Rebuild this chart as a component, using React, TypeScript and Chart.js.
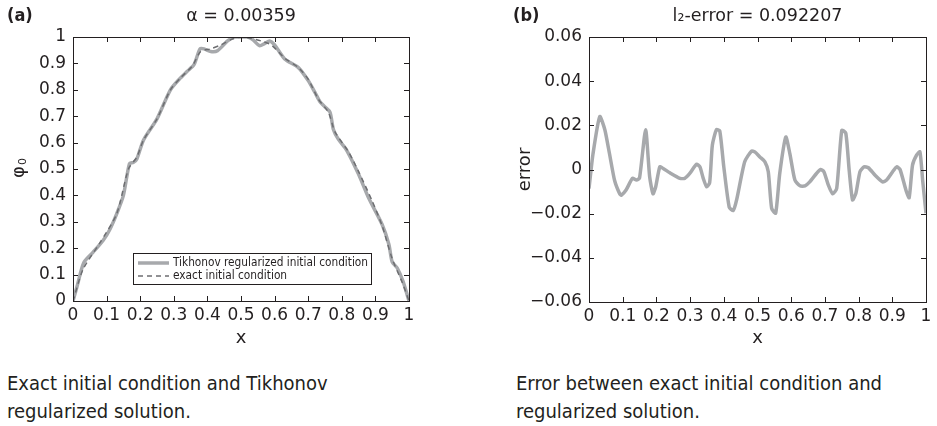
import React, { useEffect, useRef } from "react";
import { Chart, registerables } from "chart.js";
Chart.register(...registerables);

// ---------- data ----------
const tikhonovX = [0, 0.012, 0.032, 0.06, 0.09, 0.11, 0.13, 0.15, 0.168, 0.18, 0.19, 0.21, 0.25, 0.29, 0.32, 0.34, 0.36, 0.378, 0.39, 0.41, 0.43, 0.46, 0.48, 0.5, 0.52, 0.535, 0.555, 0.57, 0.585, 0.6, 0.63, 0.67, 0.7, 0.72, 0.735, 0.75, 0.765, 0.775, 0.79, 0.815, 0.85, 0.88, 0.92, 0.94, 0.95, 0.965, 0.982, 1];
const tikhonovY = [0, 0.055, 0.145, 0.185, 0.23, 0.272, 0.33, 0.4, 0.52, 0.525, 0.538, 0.61, 0.69, 0.8, 0.845, 0.87, 0.895, 0.955, 0.955, 0.945, 0.948, 0.985, 1.0, 1.0, 1.0, 0.99, 0.967, 0.975, 0.985, 0.97, 0.917, 0.885, 0.835, 0.79, 0.755, 0.735, 0.715, 0.65, 0.612, 0.57, 0.48, 0.39, 0.29, 0.215, 0.148, 0.125, 0.075, 0];

const exactX = [0, 0.03, 0.08, 0.13, 0.165, 0.19, 0.21, 0.25, 0.29, 0.32, 0.355, 0.38, 0.41, 0.44, 0.47, 0.5, 0.53, 0.56, 0.59, 0.63, 0.67, 0.7, 0.73, 0.76, 0.78, 0.82, 0.85, 0.89, 0.92, 0.95, 0.98, 1];
const exactY = [0, 0.12, 0.22, 0.33, 0.5, 0.545, 0.61, 0.69, 0.8, 0.845, 0.89, 0.945, 0.955, 0.97, 0.99, 1.0, 0.995, 0.985, 0.97, 0.92, 0.885, 0.84, 0.765, 0.715, 0.64, 0.565, 0.49, 0.38, 0.285, 0.16, 0.07, 0];

const errorX = [0, 0.012, 0.032, 0.047, 0.061, 0.076, 0.091, 0.096, 0.11, 0.129, 0.141, 0.15, 0.168, 0.18, 0.19, 0.198, 0.21, 0.22, 0.24, 0.27, 0.284, 0.299, 0.319, 0.329, 0.339, 0.349, 0.358, 0.366, 0.378, 0.388, 0.4, 0.416, 0.428, 0.438, 0.462, 0.482, 0.492, 0.507, 0.522, 0.532, 0.542, 0.554, 0.566, 0.584, 0.596, 0.611, 0.626, 0.641, 0.655, 0.675, 0.687, 0.697, 0.71, 0.723, 0.735, 0.75, 0.762, 0.772, 0.782, 0.792, 0.804, 0.816, 0.829, 0.849, 0.871, 0.883, 0.901, 0.913, 0.923, 0.941, 0.95, 0.96, 0.972, 0.982, 0.99, 1.0];
const errorY = [-0.0086, 0.0072, 0.024, 0.018, 0.007, -0.005, -0.011, -0.0116, -0.0093, -0.004, -0.0048, -0.0038, 0.018, -0.0033, -0.011, -0.0078, 0.0012, 0.0005, -0.0015, -0.004, -0.004, -0.0018, 0.0024, 0.0012, -0.004, -0.0078, -0.006, 0.011, 0.018, 0.0175, 0.0012, -0.017, -0.0186, -0.0138, 0.0035, 0.0083, 0.008, 0.0057, 0.0035, -0.001, -0.0176, -0.0198, -0.0018, 0.0147, 0.0072, -0.0048, -0.0074, -0.0074, -0.0056, -0.0018, 0, -0.001, -0.007, -0.011, -0.0086, 0.0177, 0.0165, -0.0003, -0.0138, -0.0108, -0.001, 0.0012, 0.0008, -0.0026, -0.0056, -0.0048, -0.001, 0.0012, 0, -0.0096, -0.0128, 0.002, 0.0065, 0.008, -0.0048, -0.0198];

const xTickValues = [0, 0.1, 0.2, 0.3, 0.4, 0.5, 0.6, 0.7, 0.8, 0.9, 1];
const xTickLabels = ["0", "0.1", "0.2", "0.3", "0.4", "0.5", "0.6", "0.7", "0.8", "0.9", "1"];
const phiTickValues = [0, 0.1, 0.2, 0.3, 0.4, 0.5, 0.6, 0.7, 0.8, 0.9, 1];
const phiTickLabels = ["0", "0.1", "0.2", "0.3", "0.4", "0.5", "0.6", "0.7", "0.8", "0.9", "1"];
const errTickValues = [-0.06, -0.04, -0.02, 0, 0.02, 0.04, 0.06];
const errTickLabels = ["\u22120.06", "\u22120.04", "\u22120.02", "0", "0.02", "0.04", "0.06"];

const legendLabels = ["Tikhonov regularized initial condition", "exact initial condition"];
const titleA = "\u03b1 = 0.00359";
const titleB = "l\u2082-error = 0.092207";
const captionA = "Exact initial condition and Tikhonov regularized solution.";
const captionB = "Error between exact initial condition and regularized solution.";

// ---------- styles ----------
const FONT = '"DejaVu Sans", sans-serif';
const COND = '"DejaVu Sans Condensed", "DejaVu Sans", sans-serif';
const INK = "#231f20";
const SOLID = "#a7a9ac";
const DASH = "#6d6e71";

type FrameOpts = {
  title: string;
  letter: string;
  letterX: number;
  xLabel: string;
  yLabel: string;
  yLabelX: number;
  sub?: string;
  legend?: boolean;
};

const framePlugin = {
  id: "frame",
  afterDatasetsDraw(chart: any, _args: any, opts: FrameOpts) {
    const ctx = chart.ctx;
    const { left, right, top, bottom } = chart.chartArea;
    const xs = chart.scales.x;
    const ys = chart.scales.y;
    ctx.save();
    ctx.strokeStyle = INK;
    ctx.lineWidth = 1;
    ctx.beginPath();
    for (const t of xs.ticks) {
      const px = Math.round(xs.getPixelForValue(t.value)) + 0.5;
      ctx.moveTo(px, bottom);
      ctx.lineTo(px, bottom - 5);
      ctx.moveTo(px, top);
      ctx.lineTo(px, top + 5);
    }
    for (const t of ys.ticks) {
      const py = Math.round(ys.getPixelForValue(t.value)) + 0.5;
      ctx.moveTo(left, py);
      ctx.lineTo(left + 5, py);
      ctx.moveTo(right, py);
      ctx.lineTo(right - 5, py);
    }
    ctx.stroke();
    ctx.strokeRect(Math.round(left) + 0.5, Math.round(top) + 0.5, Math.round(right - left), Math.round(bottom - top));

    // titles
    ctx.fillStyle = INK;
    ctx.textBaseline = "middle";
    ctx.textAlign = "center";
    ctx.font = `17.5px ${FONT}`;
    ctx.fillText(opts.title, (left + right) / 2, 16);
    ctx.textAlign = "left";
    ctx.font = `bold 18px ${COND}`;
    ctx.fillText(opts.letter, opts.letterX, 16);

    // x label
    ctx.textAlign = "center";
    ctx.font = `18px ${FONT}`;
    ctx.fillText(opts.xLabel, (left + right) / 2, 338);

    // y label
    ctx.save();
    ctx.translate(opts.yLabelX, (top + bottom) / 2);
    ctx.rotate(-Math.PI / 2);
    ctx.textAlign = "center";
    ctx.font = `18px ${FONT}`;
    if (opts.sub) {
      const w = ctx.measureText(opts.yLabel).width;
      ctx.fillText(opts.yLabel, -3, 0);
      ctx.font = `11px ${FONT}`;
      ctx.textAlign = "left";
      ctx.fillText(opts.sub, -3 + w / 2 + 1, 4);
    } else {
      ctx.fillText(opts.yLabel, 0, 0);
    }
    ctx.restore();

    if (opts.legend) {
      const bx = 133.5, by = 253.5, bw = 238, bh = 31;
      ctx.fillStyle = "#ffffff";
      ctx.fillRect(bx, by, bw, bh);
      ctx.strokeStyle = INK;
      ctx.lineWidth = 1;
      ctx.strokeRect(bx, by, bw, bh);
      ctx.lineCap = "butt";
      ctx.strokeStyle = SOLID;
      ctx.lineWidth = 3.5;
      ctx.beginPath();
      ctx.moveTo(138, 263);
      ctx.lineTo(169, 263);
      ctx.stroke();
      ctx.strokeStyle = DASH;
      ctx.lineWidth = 1.5;
      ctx.setLineDash([5, 4]);
      ctx.beginPath();
      ctx.moveTo(138, 276);
      ctx.lineTo(169, 276);
      ctx.stroke();
      ctx.setLineDash([]);
      ctx.fillStyle = INK;
      ctx.textAlign = "left";
      ctx.textBaseline = "middle";
      ctx.font = `11.8px ${COND}`;
      ctx.fillText(legendLabels[0], 173, 263, 195);
      ctx.fillText(legendLabels[1], 173, 276);
    }
    ctx.restore();
  },
};

function makeAxes(
  area: { left: number; right: number; top: number; bottom: number; w: number; h: number },
  yMin: number,
  yMax: number,
  yVals: number[],
  yLabs: string[]
) {
  return {
    x: {
      type: "linear",
      min: 0,
      max: 1,
      afterBuildTicks: (s: any) => {
        s.ticks = xTickValues.map((v) => ({ value: v }));
      },
      afterFit: (s: any) => {
        s.height = area.h - area.bottom;
      },
      grid: { display: false, drawTicks: false },
      border: { display: false },
      ticks: {
        autoSkip: false,
        maxRotation: 0,
        padding: 4,
        color: INK,
        font: { family: FONT, size: 17 },
        callback: (_v: any, i: number) => xTickLabels[i],
      },
    },
    y: {
      type: "linear",
      min: yMin,
      max: yMax,
      afterBuildTicks: (s: any) => {
        s.ticks = yVals.map((v) => ({ value: v }));
      },
      afterFit: (s: any) => {
        s.width = area.left;
      },
      grid: { display: false, drawTicks: false },
      border: { display: false },
      ticks: {
        autoSkip: false,
        padding: 7,
        color: INK,
        font: { family: FONT, size: 17 },
        callback: (_v: any, i: number) => yLabs[i],
      },
    },
  };
}

function ChartA() {
  const ref = useRef<HTMLCanvasElement | null>(null);
  useEffect(() => {
    const area = { left: 73, right: 409, top: 37, bottom: 301, w: 468, h: 350 };
    const chart = new Chart(ref.current as HTMLCanvasElement, {
      type: "line",
      data: {
        datasets: [
          {
            label: legendLabels[1],
            data: exactX.map((x, i) => ({ x, y: exactY[i] })),
            borderColor: DASH,
            borderWidth: 1.5,
            borderDash: [5, 4],
            pointRadius: 0,
            tension: 0.25,
            order: 0,
          },
          {
            label: legendLabels[0],
            data: tikhonovX.map((x, i) => ({ x, y: tikhonovY[i] })),
            borderColor: SOLID,
            borderWidth: 3.5,
            pointRadius: 0,
            tension: 0.25,
            order: 1,
          },
        ],
      },
      options: {
        animation: false,
        responsive: false,
        maintainAspectRatio: false,
        layout: { padding: { left: 0, top: area.top, right: area.w - area.right, bottom: 0 } },
        plugins: {
          legend: { display: false },
          tooltip: { enabled: false },
          frame: {
            title: titleA,
            letter: "(a)",
            letterX: 7,
            xLabel: "x",
            yLabel: "\u03c6",
            sub: "0",
            yLabelX: 19,
            legend: true,
          },
        } as any,
        scales: makeAxes(area, 0, 1, phiTickValues, phiTickLabels) as any,
      },
      plugins: [framePlugin as any],
    });
    return () => chart.destroy();
  }, []);
  return <canvas ref={ref} width={468} height={350} style={{ position: "absolute", left: 0, top: 0, width: 468, height: 350 }} />;
}

function ChartB() {
  const ref = useRef<HTMLCanvasElement | null>(null);
  useEffect(() => {
    const area = { left: 121, right: 458, top: 37, bottom: 302, w: 469, h: 350 };
    const chart = new Chart(ref.current as HTMLCanvasElement, {
      type: "line",
      data: {
        datasets: [
          {
            label: "error",
            data: errorX.map((x, i) => ({ x, y: errorY[i] })),
            borderColor: SOLID,
            borderWidth: 3.5,
            pointRadius: 0,
            tension: 0.2,
          },
        ],
      },
      options: {
        animation: false,
        responsive: false,
        maintainAspectRatio: false,
        layout: { padding: { left: 0, top: area.top, right: area.w - area.right, bottom: 0 } },
        plugins: {
          legend: { display: false },
          tooltip: { enabled: false },
          frame: {
            title: titleB,
            letter: "(b)",
            letterX: 45,
            xLabel: "x",
            yLabel: "error",
            yLabelX: 57,
          },
        } as any,
        scales: makeAxes(area, -0.06, 0.06, errTickValues, errTickLabels) as any,
      },
      plugins: [framePlugin as any],
    });
    return () => chart.destroy();
  }, []);
  return <canvas ref={ref} width={469} height={350} style={{ position: "absolute", left: 468, top: 0, width: 469, height: 350 }} />;
}

const captionStyle: React.CSSProperties = {
  position: "absolute",
  top: 369,
  fontFamily: COND,
  fontSize: 20,
  lineHeight: "28px",
  color: INK,
  width: 345,
};

export default function App() {
  return (
    <div style={{ position: "absolute", left: 0, top: 0, width: 937, height: 426, background: "#fff", overflow: "hidden" }}>
      <ChartA />
      <ChartB />
      <div style={{ ...captionStyle, left: 7 }}>{captionA}</div>
      <div style={{ ...captionStyle, left: 516, width: 375 }}>{captionB}</div>
    </div>
  );
}
